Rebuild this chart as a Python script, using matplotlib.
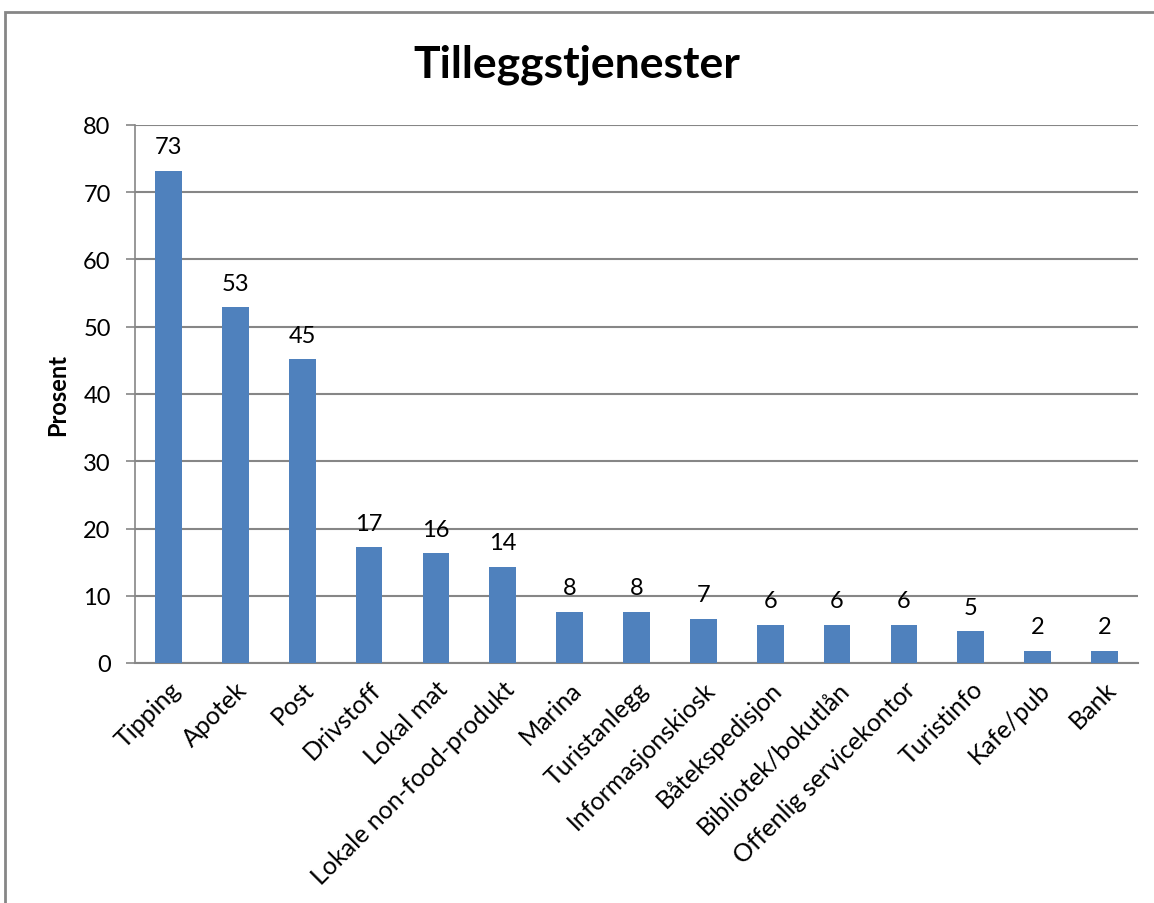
import matplotlib
matplotlib.use("Agg")
import matplotlib.pyplot as plt
from matplotlib.patches import Rectangle

categories = ["Tipping", "Apotek", "Post", "Drivstoff", "Lokal mat",
              "Lokale non-food-produkt", "Marina", "Turistanlegg",
              "Informasjonskiosk", "Båtekspedisjon", "Bibliotek/bokutlån",
              "Offenlig servicekontor", "Turistinfo", "Kafe/pub", "Bank"]
values = [73.2, 52.9, 45.2, 17.2, 16.3, 14.3, 7.6, 7.6, 6.6, 5.7, 5.7, 5.7, 4.7, 1.8, 1.8]
labels = [73, 53, 45, 17, 16, 14, 8, 8, 7, 6, 6, 6, 5, 2, 2]
yticks = [0, 10, 20, 30, 40, 50, 60, 70, 80]

plt.rcParams['font.family'] = ['Lato', 'DejaVu Sans']

W, H = 1154, 904
fig = plt.figure(figsize=(W / 100, H / 100), dpi=100)
ax = fig.add_axes([135 / W, 1 - 664 / H, 1003 / W, 538 / H])

x = range(len(categories))
ax.bar(x, values, width=0.4, color="#4F81BD", zorder=3)
for xi, v, lab in zip(x, values, labels):
    ax.text(xi, v + 2.0, str(lab), ha="center", va="bottom", fontsize=17, color="black")

ax.set_xlim(-0.5, len(categories) - 0.5)
ax.set_ylim(0, 80)
ax.set_yticks(yticks)
ax.set_yticklabels([str(t) for t in yticks], fontsize=17)
ax.yaxis.grid(True, color="#868686", linewidth=1.5, zorder=0)
ax.set_axisbelow(True)
ax.set_xticks(list(x))
ax.set_xticklabels(categories, rotation=45, ha="right", va="top",
                   rotation_mode="anchor", fontsize=18)
ax.tick_params(axis="x", length=0, pad=10)
ax.tick_params(axis="y", length=6.5, width=1.2, color="#868686", pad=11)
for s in ["top", "right"]:
    ax.spines[s].set_visible(False)
ax.spines["left"].set_color("#868686")
ax.spines["left"].set_linewidth(1.2)
ax.spines["bottom"].set_color("#868686")
ax.spines["bottom"].set_linewidth(1.5)

ax.set_ylabel("Prosent", fontsize=17, fontweight="bold", labelpad=10)
fig.text(0.5, 0.928, "Tilleggstjenester", ha="center", va="center",
         fontsize=32, fontweight="bold")

fig.patches.append(Rectangle((5 / W, -0.1), 1.2, 1 - 13 / H + 0.1,
                             transform=fig.transFigure, fill=False,
                             edgecolor="#868686", linewidth=2))

fig.savefig("out.png", dpi=100)
